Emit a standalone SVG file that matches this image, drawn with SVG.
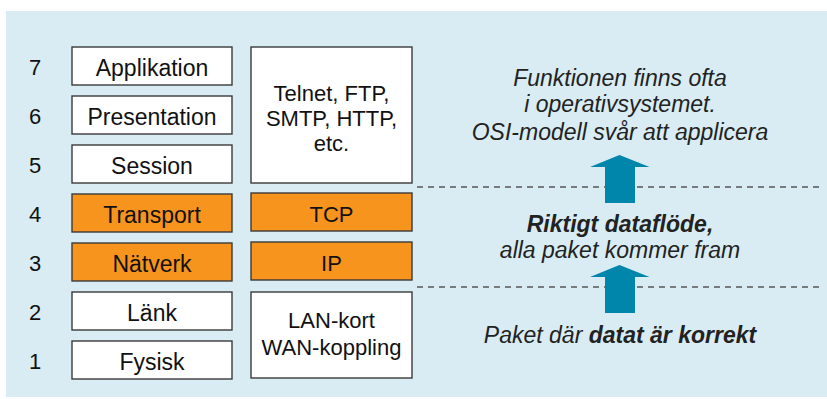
<svg xmlns="http://www.w3.org/2000/svg" width="827" height="399" viewBox="0 0 827 399">
  <defs>
    <style>
      .panel { fill: #d9ecf4; }
      .box { fill: #ffffff; stroke: #3a3a3a; stroke-width: 1.4; }
      .hot { fill: #f7941d; stroke: #3a3a3a; stroke-width: 1.4; }
      .lbl { font-family: "Liberation Sans", Arial, sans-serif; font-size: 23px; fill: #111; text-anchor: middle; }
      .proto { font-size: 22px; }
      .num { font-family: "Liberation Sans", Arial, sans-serif; font-size: 22px; fill: #111; text-anchor: middle; }
      .note { font-family: "Liberation Sans", Arial, sans-serif; font-size: 23px; font-style: italic; fill: #222; text-anchor: middle; }
      .b { font-weight: bold; }
      .dash { stroke: #555; stroke-width: 1.3; stroke-dasharray: 6 5; fill: none; }
      .up { fill: #0085ab; }
    </style>
  </defs>

  <rect class="panel" x="6" y="11" width="821" height="386"/>

  <!-- layer numbers -->
  <g id="numbers">
    <text class="num" x="35" y="75">7</text>
    <text class="num" x="35" y="124">6</text>
    <text class="num" x="35" y="173">5</text>
    <text class="num" x="35" y="222">4</text>
    <text class="num" x="35" y="271">3</text>
    <text class="num" x="35" y="320">2</text>
    <text class="num" x="35" y="369">1</text>
  </g>

  <!-- OSI layers -->
  <g id="applikation"><rect class="box" x="72" y="47" width="160" height="38"/><text class="lbl" x="152" y="75.5">Applikation</text></g>
  <g id="presentation"><rect class="box" x="72" y="96" width="160" height="38"/><text class="lbl" x="152" y="124.5">Presentation</text></g>
  <g id="session"><rect class="box" x="72" y="145" width="160" height="38"/><text class="lbl" x="152" y="173.5">Session</text></g>
  <g id="transport"><rect class="hot" x="72" y="194" width="160" height="38"/><text class="lbl" x="152" y="222.5">Transport</text></g>
  <g id="natverk"><rect class="hot" x="72" y="243" width="160" height="38"/><text class="lbl" x="152" y="271.5">Nätverk</text></g>
  <g id="lank"><rect class="box" x="72" y="292" width="160" height="38"/><text class="lbl" x="152" y="320.5">Länk</text></g>
  <g id="fysisk"><rect class="box" x="72" y="341" width="160" height="38"/><text class="lbl" x="152" y="369.5">Fysisk</text></g>

  <!-- Internet protocol stack -->
  <g id="app-protocols">
    <rect class="box" x="251" y="47" width="161" height="136"/>
    <text class="lbl proto" x="331.5" y="101">Telnet, FTP,</text>
    <text class="lbl proto" x="331.5" y="125.5">SMTP, HTTP,</text>
    <text class="lbl proto" x="331.5" y="150.5">etc.</text>
  </g>
  <g id="tcp"><rect class="hot" x="251" y="193" width="161" height="38"/><text class="lbl proto" x="331.5" y="221.5">TCP</text></g>
  <g id="ip"><rect class="hot" x="251" y="242" width="161" height="38"/><text class="lbl proto" x="331.5" y="270.5">IP</text></g>
  <g id="link-hw">
    <rect class="box" x="251" y="292" width="161" height="86"/>
    <text class="lbl proto" x="331.5" y="328">LAN-kort</text>
    <text class="lbl proto" x="331.5" y="355">WAN-koppling</text>
  </g>

  <!-- boundaries and upward flow -->
  <g id="connectors">
    <line class="dash" x1="417" y1="187" x2="823" y2="187"/>
    <line class="dash" x1="417" y1="287" x2="823" y2="287"/>
    <polygon class="up" points="619.5,155 649.5,167 635,167 635,203 605,203 605,167 590,167"/>
    <polygon class="up" points="619.5,265 649.5,277 635,277 635,313 605,313 605,277 590,277"/>
  </g>

  <!-- notes -->
  <g id="note-top">
    <text class="note" x="620" y="86">Funktionen finns ofta</text>
    <text class="note" x="620" y="112">i operativsystemet.</text>
    <text class="note" x="620" y="140">OSI-modell svår att applicera</text>
  </g>
  <g id="note-mid">
    <text class="note b" x="620" y="232">Riktigt dataflöde,</text>
    <text class="note" x="620" y="258">alla paket kommer fram</text>
  </g>
  <g id="note-bottom">
    <text class="note" x="620" y="343">Paket där <tspan class="b">datat är korrekt</tspan></text>
  </g>
</svg>
